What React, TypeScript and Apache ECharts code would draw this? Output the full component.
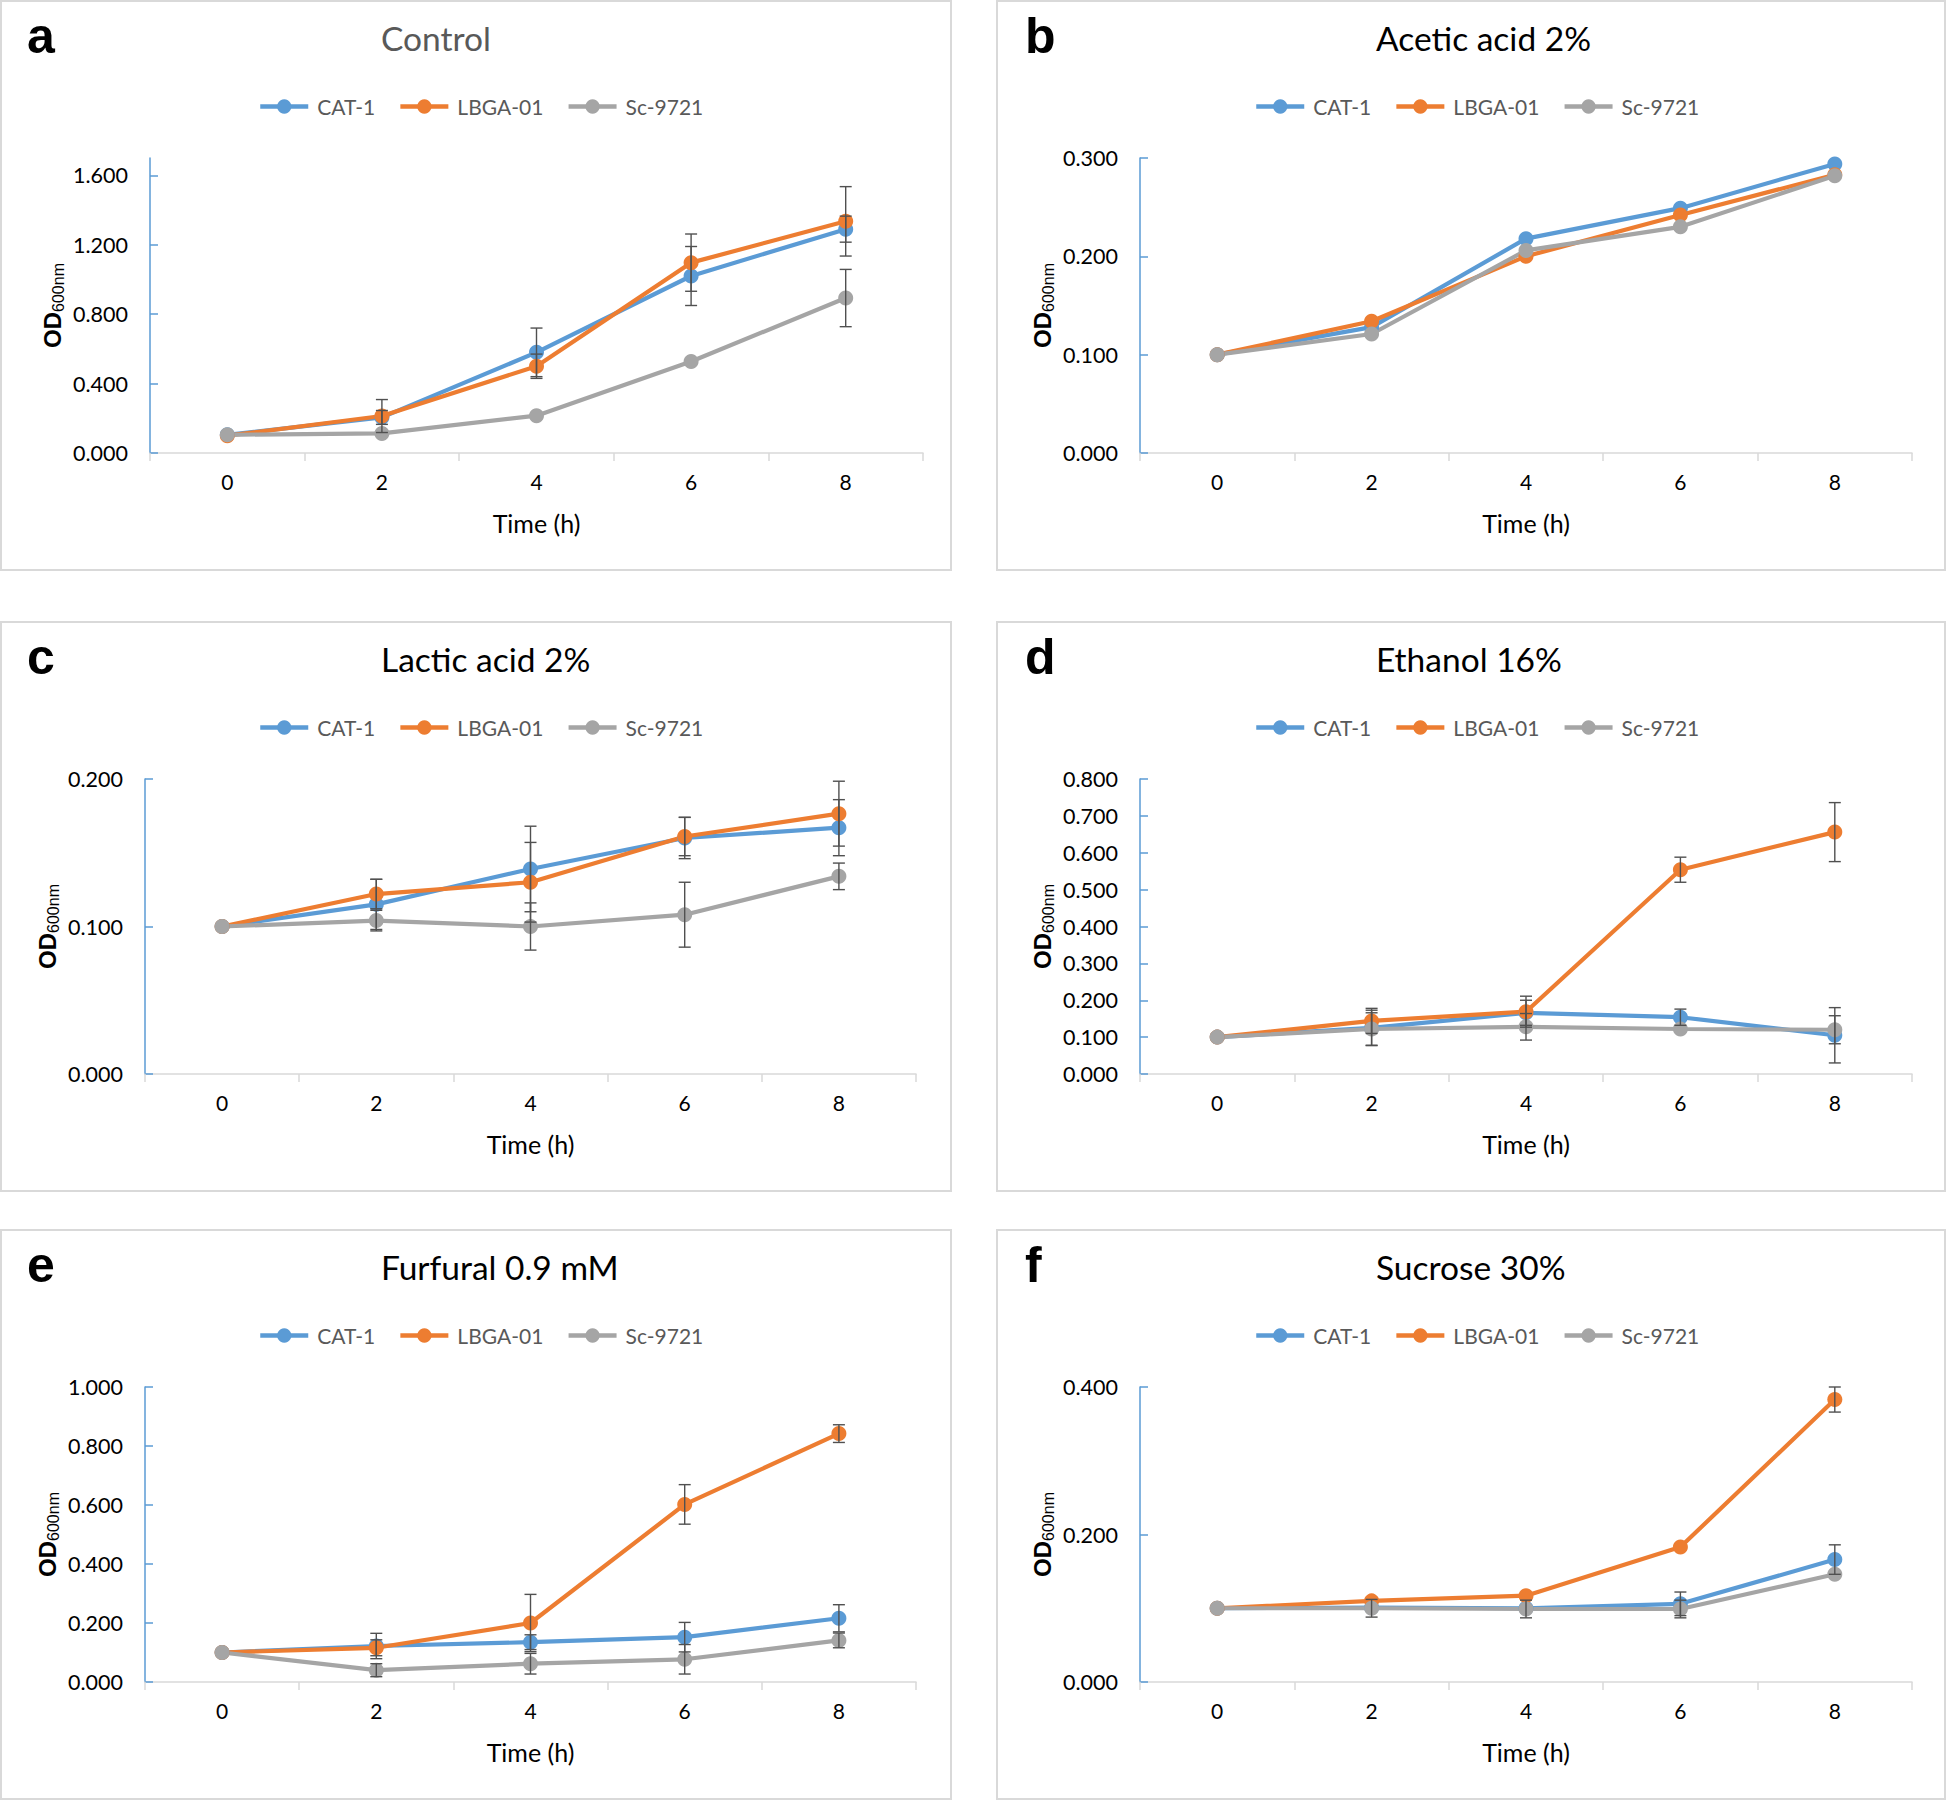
import React, { useEffect, useRef } from "react";
import * as echarts from "echarts";

// ---------- data ----------
const timeLabels = ["0", "2", "4", "6", "8"];
const seriesNames = ["CAT-1", "LBGA-01", "Sc-9721"];
const panelLetters = ["a", "b", "c", "d", "e", "f"];
const panelTitles = ["Control", "Acetic acid 2%", "Lactic acid 2%", "Ethanol 16%", "Furfural 0.9 mM", "Sucrose 30%"];

const yMax = [1.7, 0.3, 0.2, 0.8, 1.0, 0.4];
const yStep = [0.4, 0.1, 0.1, 0.1, 0.2, 0.2];
const yTickValues = [
  [0, 0.4, 0.8, 1.2, 1.6],
  [0, 0.1, 0.2, 0.3],
  [0, 0.1, 0.2],
  [0, 0.1, 0.2, 0.3, 0.4, 0.5, 0.6, 0.7, 0.8],
  [0, 0.2, 0.4, 0.6, 0.8, 1.0],
  [0, 0.2, 0.4],
];

// Control
const controlCAT = [0.105, 0.205, 0.58, 1.02, 1.29];
const controlLBGA = [0.1, 0.213, 0.5, 1.097, 1.335];
const controlSc = [0.105, 0.113, 0.215, 0.527, 0.893];
const controlCATErr = [0, 0.04, 0.14, 0.17, 0.075];
const controlLBGAErr = [0, 0.095, 0.07, 0.165, 0.2];
const controlScErr = [0, 0, 0, 0, 0.165];

// Acetic acid 2%
const aceticCAT = [0.1, 0.128, 0.218, 0.249, 0.294];
const aceticLBGA = [0.1, 0.134, 0.2, 0.242, 0.283];
const aceticSc = [0.1, 0.121, 0.206, 0.23, 0.282];
const aceticCATErr = [0, 0, 0, 0, 0];
const aceticLBGAErr = [0, 0, 0, 0, 0];
const aceticScErr = [0, 0, 0, 0, 0];

// Lactic acid 2%
const lacticCAT = [0.1, 0.115, 0.139, 0.16, 0.167];
const lacticLBGA = [0.1, 0.122, 0.13, 0.161, 0.1765];
const lacticSc = [0.1, 0.104, 0.1, 0.108, 0.134];
const lacticCATErr = [0, 0.017, 0.029, 0.014, 0.019];
const lacticLBGAErr = [0, 0.01, 0.027, 0.013, 0.022];
const lacticScErr = [0, 0.007, 0.016, 0.022, 0.009];

// Ethanol 16%
const ethanolCAT = [0.1, 0.125, 0.166, 0.154, 0.105];
const ethanolLBGA = [0.1, 0.144, 0.169, 0.554, 0.656];
const ethanolSc = [0.1, 0.122, 0.128, 0.122, 0.12];
const ethanolCATErr = [0, 0.048, 0.034, 0.022, 0.075];
const ethanolLBGAErr = [0, 0.034, 0.042, 0.034, 0.08];
const ethanolScErr = [0, 0.044, 0.036, 0, 0.038];

// Furfural 0.9 mM
const furfuralCAT = [0.1, 0.122, 0.135, 0.152, 0.216];
const furfuralLBGA = [0.1, 0.116, 0.2, 0.602, 0.842];
const furfuralSc = [0.1, 0.04, 0.062, 0.077, 0.141];
const furfuralCATErr = [0, 0.043, 0.025, 0.05, 0.046];
const furfuralLBGAErr = [0, 0.027, 0.097, 0.067, 0.03];
const furfuralScErr = [0, 0.022, 0.035, 0.05, 0.025];

// Sucrose 30%
const sucroseCAT = [0.1, 0.101, 0.1, 0.106, 0.166];
const sucroseLBGA = [0.1, 0.11, 0.117, 0.183, 0.383];
const sucroseSc = [0.1, 0.1, 0.099, 0.099, 0.146];
const sucroseCATErr = [0, 0, 0, 0.016, 0.02];
const sucroseLBGAErr = [0, 0, 0, 0, 0.017];
const sucroseScErr = [0, 0.012, 0.012, 0.012, 0];

const panelValues = [
  [controlCAT, controlLBGA, controlSc],
  [aceticCAT, aceticLBGA, aceticSc],
  [lacticCAT, lacticLBGA, lacticSc],
  [ethanolCAT, ethanolLBGA, ethanolSc],
  [furfuralCAT, furfuralLBGA, furfuralSc],
  [sucroseCAT, sucroseLBGA, sucroseSc],
];
const panelErrors = [
  [controlCATErr, controlLBGAErr, controlScErr],
  [aceticCATErr, aceticLBGAErr, aceticScErr],
  [lacticCATErr, lacticLBGAErr, lacticScErr],
  [ethanolCATErr, ethanolLBGAErr, ethanolScErr],
  [furfuralCATErr, furfuralLBGAErr, furfuralScErr],
  [sucroseCATErr, sucroseLBGAErr, sucroseScErr],
];

// ---------- style / layout ----------
const seriesColors = ["#5B9BD5", "#ED7D31", "#A5A5A5"];
const titleColors = ["#595959", "#000", "#000", "#000", "#000", "#000"];
const W = 1947;
const H = 1802;
const colX = [0, 996];
const colW = [952, 950];
const rowY = [0, 621, 1229];
const rowH = 571;
const gridLeft = [
  [150, 1140],
  [145, 1140],
  [145, 1140],
];
const gridWidth = [
  [773, 772],
  [771, 772],
  [771, 772],
];
const gridTopOff = 158;
const gridH = 295;
const titleX = [381, 1376];
const letterX = [27, 1025];
const legendX = [258, 1254];
const FONT = "Lato, 'Open Sans', sans-serif";

function renderErr(params: any, api: any) {
  const idx = api.value(0);
  const v = api.value(1);
  const e = api.value(2);
  if (!e) return { type: "group", children: [] };
  const top = api.coord([idx, v + e]);
  const bot = api.coord([idx, v - e]);
  const hw = 6;
  const st = { stroke: "#505050", lineWidth: 1.4 };
  return {
    type: "group",
    children: [
      { type: "line", shape: { x1: top[0], y1: top[1], x2: bot[0], y2: bot[1] }, style: st },
      { type: "line", shape: { x1: top[0] - hw, y1: top[1], x2: top[0] + hw, y2: top[1] }, style: st },
      { type: "line", shape: { x1: bot[0] - hw, y1: bot[1], x2: bot[0] + hw, y2: bot[1] }, style: st },
    ],
  };
}

function buildOption() {
  const grids: any[] = [];
  const xAxes: any[] = [];
  const yAxes: any[] = [];
  const series: any[] = [];
  const legends: any[] = [];
  const graphics: any[] = [];

  for (let i = 0; i < 6; i++) {
    const r = Math.floor(i / 2);
    const c = i % 2;
    const top = rowY[r] + gridTopOff;
    grids.push({ left: gridLeft[r][c], top, width: gridWidth[r][c], height: gridH, containLabel: false });

    xAxes.push({
      gridIndex: i,
      type: "category",
      data: timeLabels,
      boundaryGap: true,
      axisLine: { show: true, lineStyle: { color: "#D9D9D9", width: 1.5 } },
      axisTick: { show: true, length: 8, lineStyle: { color: "#D9D9D9", width: 1.5 } },
      axisLabel: { margin: 18, fontSize: 21, color: "#000", fontFamily: FONT },
      splitLine: { show: false },
      name: "Time (h)",
      nameLocation: "middle",
      nameGap: 57,
      nameTextStyle: { fontSize: 25, color: "#000", fontFamily: FONT },
    });

    yAxes.push({
      gridIndex: i,
      type: "value",
      min: 0,
      max: yMax[i],
      interval: yStep[i],
      axisLine: { show: true, lineStyle: { color: "#5B9BD5", width: 1.5 } },
      axisTick: {
        show: true,
        inside: true,
        length: 8,
        lineStyle: { color: "#5B9BD5", width: 1.5 },
        customValues: yTickValues[i],
      },
      axisLabel: {
        customValues: yTickValues[i],
        formatter: (v: number) => v.toFixed(3),
        margin: 22,
        fontSize: 21.5,
        color: "#000",
        fontFamily: FONT,
      },
      splitLine: { show: false },
      name: "{a|OD}{b|600nm}",
      nameLocation: "middle",
      nameGap: 84,
      nameTextStyle: {
        rich: {
          a: { fontFamily: "'Liberation Sans', Arial, sans-serif", fontWeight: "bold", fontSize: 24, color: "#000", lineHeight: 28 },
          b: { fontFamily: "'Liberation Sans', Arial, sans-serif", fontSize: 16, color: "#000", lineHeight: 19, verticalAlign: "bottom" },
        },
      },
    });

    for (let s = 0; s < 3; s++) {
      series.push({
        type: "line",
        name: seriesNames[s],
        xAxisIndex: i,
        yAxisIndex: i,
        data: panelValues[i][s],
        symbol: "circle",
        symbolSize: 15,
        itemStyle: { color: seriesColors[s] },
        lineStyle: { color: seriesColors[s], width: 4.2 },
        z: 2,
      });
      series.push({
        type: "custom",
        name: "err-" + i + "-" + s,
        xAxisIndex: i,
        yAxisIndex: i,
        renderItem: renderErr,
        encode: { x: 0, y: 1 },
        data: panelValues[i][s].map((v, k) => [k, v, panelErrors[i][s][k]]),
        z: 3,
        silent: true,
      });
    }

    legends.push({
      data: seriesNames,
      left: legendX[c],
      top: rowY[r] + 96,
      orient: "horizontal",
      itemWidth: 48,
      itemHeight: 18,
      itemGap: 23,
      padding: 0,
      selectedMode: false,
      lineStyle: { width: 4.5 },
      textStyle: { fontFamily: FONT, fontSize: 21, color: "#595959", padding: [0, 0, 0, 4] },
    });

    graphics.push({
      type: "rect",
      shape: { x: colX[c] + 1, y: rowY[r] + 1, width: colW[c] - 2, height: rowH - 2 },
      style: { fill: "none", stroke: "#D9D9D9", lineWidth: 2 },
      silent: true,
    });
    graphics.push({
      type: "text",
      x: titleX[c],
      y: rowY[r] + 38,
      style: {
        text: panelTitles[i],
        fontFamily: FONT,
        fontSize: 33.5,
        fill: titleColors[i],
        align: "left",
        verticalAlign: "middle",
      },
      silent: true,
    });
    graphics.push({
      type: "text",
      x: letterX[c],
      y: rowY[r] + 36,
      style: {
        text: panelLetters[i],
        fontFamily: "'Liberation Sans', Arial, sans-serif",
        fontWeight: "bold",
        fontSize: 50,
        fill: "#000",
        align: "left",
        verticalAlign: "middle",
      },
      silent: true,
    });
  }

  return {
    animation: false,
    backgroundColor: "#fff",
    grid: grids,
    xAxis: xAxes,
    yAxis: yAxes,
    legend: legends,
    series,
    graphic: graphics,
  };
}

export default function App() {
  const ref = useRef<HTMLDivElement>(null);
  useEffect(() => {
    document.body.style.margin = "0";
    const chart = echarts.init(ref.current!, null, { renderer: "svg", width: W, height: H });
    chart.setOption(buildOption() as any);
    return () => chart.dispose();
  }, []);
  return <div ref={ref} style={{ width: W, height: H, background: "#fff" }} />;
}
